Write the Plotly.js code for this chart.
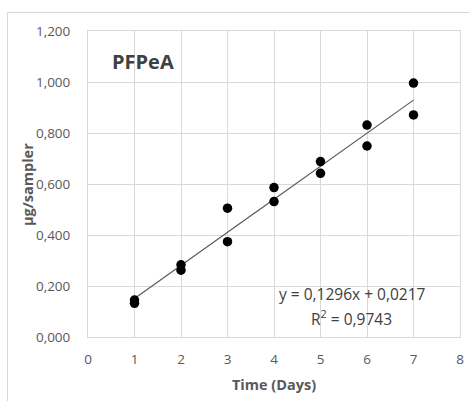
<!DOCTYPE html>
<html>
<head>
<meta charset="utf-8">
<script src="https://cdn.plot.ly/plotly-3.0.1.min.js"></script>
<style>
  html, body { margin: 0; padding: 0; background: #ffffff; }
  #frame { position: absolute; left: 7px; top: 12px; width: 520px; height: 450px; border: 1px solid #d9d9d9; }
  #chart { position: absolute; left: 0; top: 0; width: 470px; height: 401px; }
</style>
</head>
<body>
<div id="frame"></div>
<div id="chart"></div>
<script>
// Data
const days = [1, 1, 2, 2, 3, 3, 4, 4, 5, 5, 6, 6, 7, 7];
const ugPerSampler = [0.145, 0.132, 0.283, 0.262, 0.505, 0.374, 0.586, 0.531, 0.688, 0.642, 0.831, 0.749, 0.996, 0.871];
const trendSlope = 0.1296;
const trendIntercept = 0.0217;
const equationText = 'y = 0,1296x + 0,0217';
const r2Text = 'R<sup>2</sup> = 0,9743';
const chartTitle = 'PFPeA';
const xTitle = 'Time (Days)';
const yTitle = 'µg/sampler';

const xMin = Math.min(...days), xMax = Math.max(...days);
const trendX = [xMin, xMax];
const trendY = trendX.map(x => trendSlope * x + trendIntercept);

const font = '"Open Sans", "Noto Sans", sans-serif';

const traces = [
  {
    x: trendX, y: trendY, mode: 'lines', type: 'scatter',
    line: { color: '#595959', width: 1.2 }, hoverinfo: 'skip', showlegend: false
  },
  {
    x: days, y: ugPerSampler, mode: 'markers', type: 'scatter',
    marker: { color: '#000000', size: 9.5 }, showlegend: false
  }
];

const layout = {
  width: 470, height: 401,
  margin: { l: 88, r: 10, t: 31, b: 64 },
  paper_bgcolor: 'rgba(0,0,0,0)',
  plot_bgcolor: '#ffffff',
  separators: ',.',
  font: { family: font, color: '#595959', size: 13.5 },
  showlegend: false,
  xaxis: {
    range: [0, 8], dtick: 1, tick0: 0,
    showgrid: true, gridcolor: '#d9d9d9', gridwidth: 1,
    zeroline: false, showline: true, linecolor: '#d9d9d9', linewidth: 1, mirror: true,
    ticks: '', ticklabelstandoff: 10, tickfont: { family: font, size: 13.5, color: '#595959' },
    title: { text: '<b>' + xTitle + '</b>', font: { family: font, size: 14.5, color: '#595959' }, standoff: 12 },
    automargin: false
  },
  yaxis: {
    range: [0, 1.2], dtick: 0.2, tick0: 0, tickformat: '.3f',
    showgrid: true, gridcolor: '#d9d9d9', gridwidth: 1,
    zeroline: false, showline: true, linecolor: '#d9d9d9', linewidth: 1, mirror: true,
    ticks: '', ticklabelstandoff: 14, tickfont: { family: font, size: 13.5, color: '#595959' },
    automargin: false
  },
  annotations: [
    {
      text: '<b>' + yTitle + '</b>', xref: 'paper', yref: 'paper',
      x: -0.164, y: 0.5, xanchor: 'center', yanchor: 'middle', textangle: -90, showarrow: false,
      font: { family: font, size: 14.5, color: '#595959' }
    },
    {
      text: '<b>' + chartTitle + '</b>', xref: 'paper', yref: 'paper',
      x: 0.058, y: 0.9, xanchor: 'left', yanchor: 'middle', showarrow: false,
      font: { family: font, size: 20, color: '#404040' }
    },
    {
      text: equationText, xref: 'x', yref: 'y',
      x: 5.67, y: 0.167, xanchor: 'center', yanchor: 'middle', showarrow: false,
      font: { family: font, size: 15.5, color: '#404040' }
    },
    {
      text: r2Text, xref: 'x', yref: 'y',
      x: 5.67, y: 0.076, xanchor: 'center', yanchor: 'middle', showarrow: false,
      font: { family: font, size: 15.5, color: '#404040' }
    }
  ]
};

Plotly.newPlot('chart', traces, layout, { displayModeBar: false, staticPlot: true });
</script>
</body>
</html>
